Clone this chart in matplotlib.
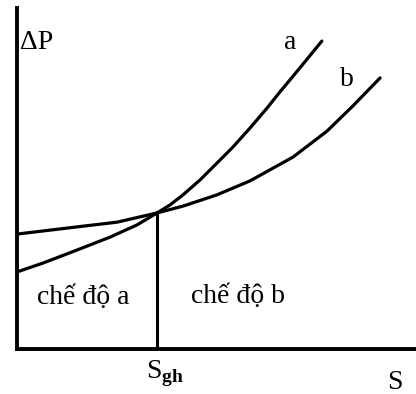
import matplotlib
matplotlib.use('Agg')
import matplotlib.pyplot as plt

plt.rcParams['font.family'] = ['Liberation Serif', 'DejaVu Serif']
plt.rcParams['mathtext.fontset'] = 'custom'
plt.rcParams['mathtext.rm'] = 'Liberation Serif'
plt.rcParams['mathtext.bf'] = 'Liberation Serif:bold'

# curve a (S vs dP)
s_a = [0.0, 0.65, 1.50, 2.33, 3.01, 3.51, 3.83, 4.16, 4.59, 5.01, 5.41,
       5.84, 6.27, 6.59, 6.84, 7.27, 7.64]
dp_a = [2.26, 2.52, 2.90, 3.28, 3.64, 3.99, 4.22, 4.52, 4.96, 5.45, 5.92,
        6.48, 7.07, 7.54, 7.89, 8.50, 9.03]

# curve b
s_b = [0.0, 1.50, 2.51, 3.51, 4.16, 5.01, 5.84, 6.92, 7.77, 8.42, 9.10]
dp_b = [3.37, 3.58, 3.72, 3.99, 4.19, 4.52, 4.93, 5.63, 6.39, 7.13, 7.95]

# limit point
s_gh = 3.51
dp_gh = 3.99

fig = plt.figure(figsize=(4.16, 3.94), dpi=100)
ax = fig.add_axes([17 / 416, 45 / 394, 399 / 416, 341 / 394])
ax.set_xlim(0, 10)
ax.set_ylim(0, 10)

ax.plot(s_a, dp_a, color='black', linewidth=2.3, solid_capstyle='round',
        solid_joinstyle='round')
ax.plot(s_b, dp_b, color='black', linewidth=2.3, solid_capstyle='round',
        solid_joinstyle='round')
ax.plot([s_gh, s_gh], [0, dp_gh], color='black', linewidth=2.2)

for side in ['top', 'right']:
    ax.spines[side].set_visible(False)
for side in ['left', 'bottom']:
    ax.spines[side].set_linewidth(2.8)
ax.set_xticks([])
ax.set_yticks([])

fs = 20
ax.text(0.5, 9.0, 'ΔP', fontsize=fs, ha='center', va='center')
ax.text(6.84, 9.0, 'a', fontsize=fs, ha='center', va='center')
ax.text(8.27, 7.89, 'b', fontsize=fs, ha='center', va='center')
ax.text(1.65, 1.5, 'chế độ a', fontsize=fs, ha='center', va='center')
ax.text(5.54, 1.55, 'chế độ b', fontsize=fs, ha='center', va='center')
ax.text(3.71, -0.72, r'$\mathrm{S}_{\mathbf{gh}}$', fontsize=fs, ha='center',
        va='center', clip_on=False)
ax.text(9.47, -0.97, 'S', fontsize=fs, ha='center', va='center', clip_on=False)

plt.savefig('out.png', dpi=100, facecolor='white')
plt.close()
